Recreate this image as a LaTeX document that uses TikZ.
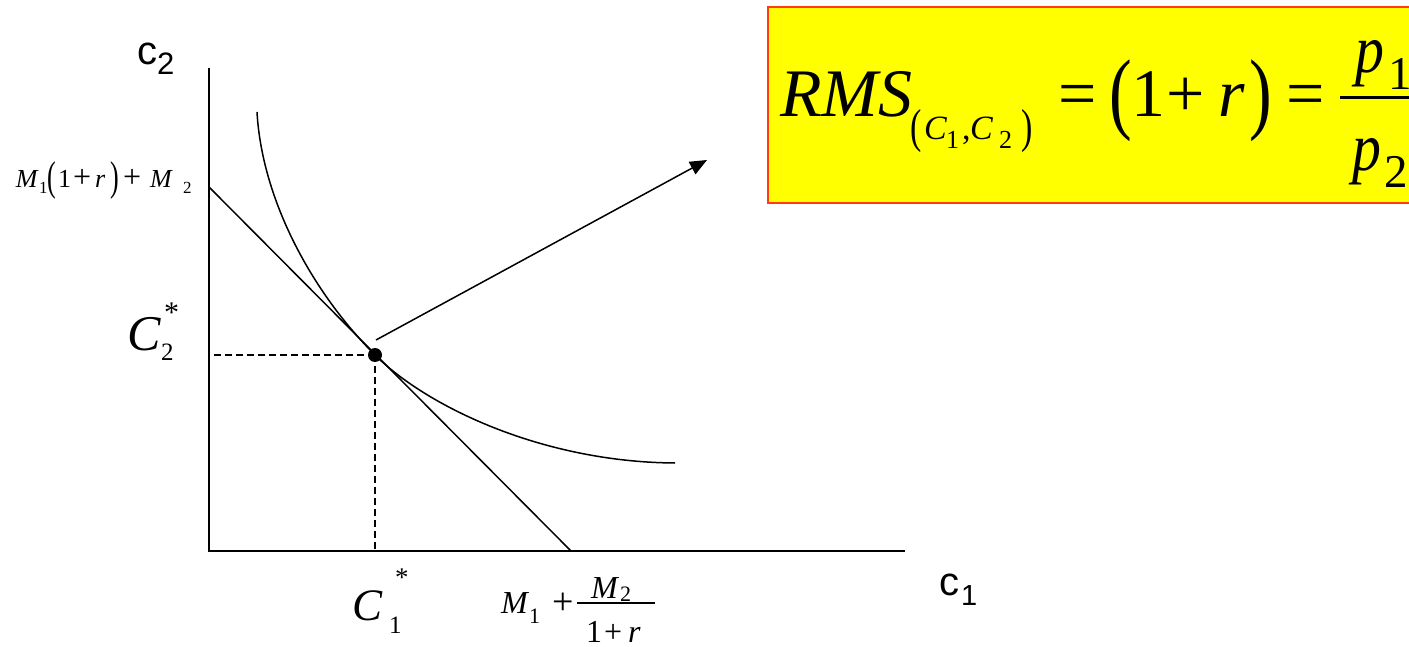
\documentclass[tikz,border=0pt]{standalone}
\usepackage{fontspec}
\usepackage{graphicx}
\usetikzlibrary{arrows.meta}
\setmainfont{Liberation Serif}
\newfontfamily\arialf{Liberation Sans}
\newcommand{\fsz}[1]{\fontsize{#1}{#1}\selectfont}
\newcommand{\sparen}[3]{\raisebox{#2}{\scalebox{1}[#3]{#1}}}
\definecolor{boxred}{RGB}{255,60,10}
\definecolor{boxyellow}{RGB}{255,255,0}
\begin{document}
\begin{tikzpicture}[x=1pt,y=-1pt,
  txt/.style={inner sep=0pt, outer sep=0pt, anchor=base west},
  axisline/.style={line width=2pt},
  thinline/.style={line width=1.5pt},
  dashline/.style={line width=1.5pt, dash pattern=on 7pt off 4pt},
  formulabox/.style={fill=boxyellow, draw=boxred, line width=2pt}]
\clip (0,0) rectangle (1409,647);
\fill[white] (0,0) rectangle (1409,647);

% formula box
\draw[formulabox] (768,7) rectangle (1440,203);
\node[txt] (rms) at (780,117) {\fsz{68}\itshape RMS};
\node[txt] (sa) at (910,140) {\fsz{34}\sparen{(}{-2.5pt}{1.4}};
\node[txt] (sb) at (924,140) {\fsz{34}\itshape C};
\node[txt] (sc) at (946,149) {\fsz{26}1};
\node[txt] (sd) at (962,140) {\fsz{34},};
\node[txt] (se) at (970,140) {\fsz{34}\itshape C};
\node[txt] (sf) at (999,149) {\fsz{26}2};
\node[txt] (sg) at (1021,140) {\fsz{34}\sparen{)}{-2.5pt}{1.4}};
\node[txt] (eq1) at (1058,117) {\fsz{68}=};
\node[txt] (pa) at (1109,117) {\fsz{68}\sparen{(}{-5.5pt}{1.33}};
\node[txt] (one) at (1131,117) {\fsz{68}1};
\node[txt] (plus) at (1166,117) {\fsz{68}+};
\node[txt] (rr) at (1218,117) {\fsz{68}\itshape r};
\node[txt] (pb) at (1249,117) {\fsz{68}\sparen{)}{-5.5pt}{1.33}};
\node[txt] (eq2) at (1286,117) {\fsz{68}=};
\coordinate (barL) at (1340,98);
\coordinate (barR) at (1440,98);
\draw[line width=3pt] (barL) -- (barR);
\node[txt] (pone) at (1355,73) {\fsz{68}\itshape\scalebox{0.85}[1]{p}};
\node[txt] (pones) at (1388,90) {\fsz{47}1};
\node[txt] (ptwo) at (1352,171) {\fsz{68}\itshape\scalebox{0.85}[1]{p}};
\node[txt] (ptwos) at (1384,188) {\fsz{47}2};

% axes
\coordinate (O) at (209,551);
\coordinate (Ytop) at (209,68);
\coordinate (Xend) at (905,551);
\draw[axisline] (Ytop) -- (O) -- (Xend);

% budget line
\coordinate (B1) at (209,187);
\coordinate (B2) at (571,551);
\draw[thinline] (B1) -- (B2);

% indifference curve
\coordinate (E) at (375,355);
\coordinate (Cs) at (257,112);
\coordinate (Ce) at (675,463);
\draw[thinline] (Cs) .. controls (262,200) and (312,292) .. (E)
  .. controls (425,405) and (540,462) .. (Ce);

% dashed projections
\coordinate (Ey) at (213,355);
\coordinate (Ex) at (375,549);
\draw[dashline] (E) -- (Ey);
\draw[dashline] (E) -- (Ex);

% optimum point
\fill (E) circle (7pt);

% arrow
\coordinate (As) at (376,340);
\coordinate (Ae) at (707,160);
\draw[thinline, -{Triangle[length=17pt,width=14pt]}] (As) -- (Ae);

% axis labels
\node[txt] (c2) at (137,65) {\arialf\fsz{40}c};
\node[txt] (c2s) at (157,75) {\arialf\fsz{31}2};
\node[txt] (c1) at (939,595) {\arialf\fsz{40}c};
\node[txt] (c1s) at (961,605) {\arialf\fsz{29}1};

% intercept label on vertical axis
\node[txt] (L1) at (16,188) {\fsz{26}\itshape M};
\node[txt] (L2) at (39,194) {\fsz{17}1};
\node[txt] (L3) at (47,188) {\fsz{26}\sparen{(}{-2.5pt}{1.6}};
\node[txt] (L4) at (58,188) {\fsz{26}1};
\node[txt] (L5) at (73,188) {\fsz{32}+};
\node[txt] (L6) at (95,188) {\fsz{26}\itshape r};
\node[txt] (L7) at (110,188) {\fsz{26}\sparen{)}{-2.5pt}{1.6}};
\node[txt] (L8) at (123,188) {\fsz{32}+};
\node[txt] (L9) at (150,188) {\fsz{26}\itshape M};
\node[txt] (L10) at (183,194) {\fsz{17}2};

% C2*
\node[txt] (C2a) at (127,350) {\fsz{50}\itshape C};
\node[txt] (C2b) at (161,360) {\fsz{25}2};
\node[txt] (C2c) at (164,323) {\fsz{30}*};

% C1*
\node[txt] (C1a) at (352,620) {\fsz{45}\itshape C};
\node[txt] (C1b) at (389,633) {\fsz{25}1};
\node[txt] (C1c) at (395,586) {\fsz{27}*};

% horizontal intercept label
\node[txt] (H1) at (501,613) {\fsz{32}\itshape M};
\node[txt] (H2) at (529,623) {\fsz{22}1};
\node[txt] (H3) at (552,614) {\fsz{38}+};
\coordinate (hbL) at (577,603);
\coordinate (hbR) at (655,603);
\draw[line width=1.5pt] (hbL) -- (hbR);
\node[txt] (H4) at (591,598) {\fsz{32}\itshape M};
\node[txt] (H5) at (620,601) {\fsz{22}2};
\node[txt] (H6) at (586,642) {\fsz{32}1};
\node[txt] (H7) at (604,642) {\fsz{32}+};
\node[txt] (H8) at (628,642) {\fsz{32}\itshape r};
\end{tikzpicture}
\end{document}
